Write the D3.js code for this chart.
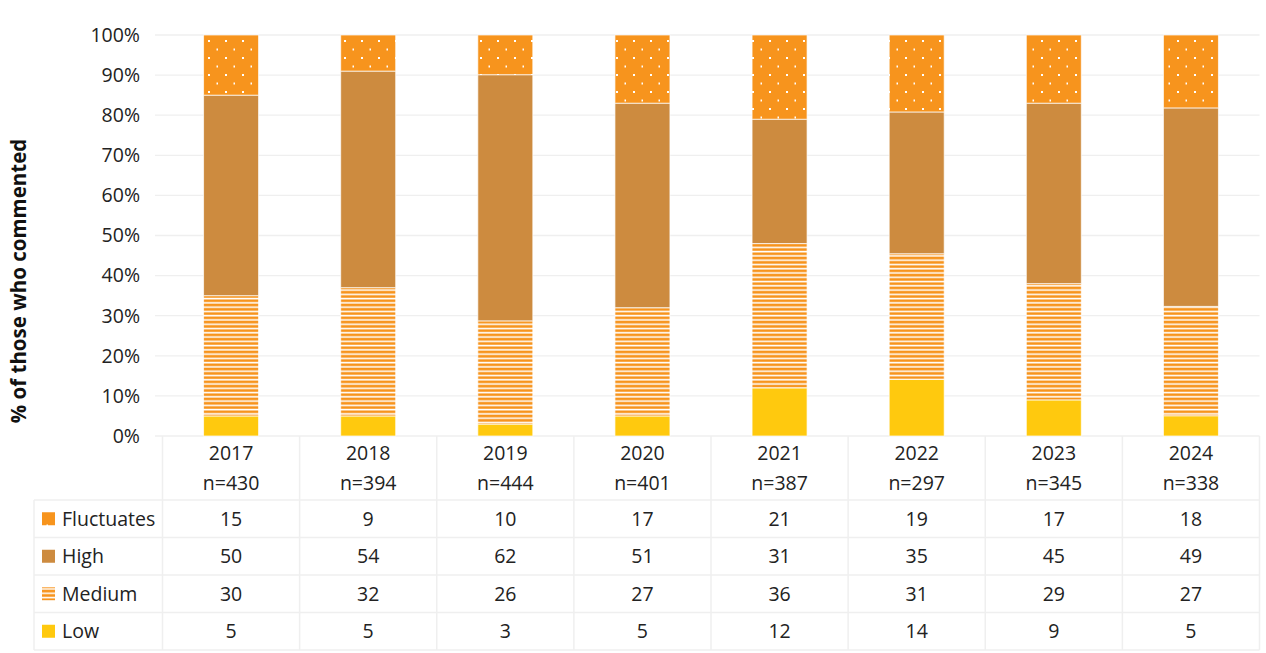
<!DOCTYPE html>
<html><head><meta charset="utf-8">
<script src="https://cdn.jsdelivr.net/npm/d3@7"></script>
<style>body{margin:0;background:#fff}svg{display:block;font-family:"Open Sans","Noto Sans",sans-serif}</style>
</head><body><svg id="c" width="1266" height="653"></svg>
<script>
const years = ["2017","2018","2019","2020","2021","2022","2023","2024"];
const nCounts = ["n=430","n=394","n=444","n=401","n=387","n=297","n=345","n=338"];
const seriesNames = ["Low","Medium","High","Fluctuates"];
const low = [5,5,3,5,12,14,9,5];
const medium = [30,32,26,27,36,31,29,27];
const high = [50,54,62,51,31,35,45,49];
const fluctuates = [15,9,10,17,21,19,17,18];
const yTicks = [0,0.1,0.2,0.3,0.4,0.5,0.6,0.7,0.8,0.9,1];
const tableOrder = ["Fluctuates","High","Medium","Low"];
const yTitle = "% of those who commented";

const svg = d3.select("#c");
const L = 162.5, R = 1259.5, T = 35, B = 436;
const gridCol = "#efefef";
const FS = 19.5;

const defs = svg.append("defs");
const pd = defs.append("pattern").attr("id","dots").attr("patternUnits","userSpaceOnUse")
  .attr("width",17).attr("height",17).attr("x",0).attr("y",0);
pd.append("rect").attr("width",17).attr("height",17).attr("fill","#F7941D");
pd.append("rect").attr("x",4).attr("y",6).attr("width",2).attr("height",2).attr("fill","#fff");
pd.append("rect").attr("x",12.5).attr("y",14.5).attr("width",1.5).attr("height",2).attr("fill","#fff");
const ps = defs.append("pattern").attr("id","stripes").attr("patternUnits","userSpaceOnUse")
  .attr("width",10).attr("height",4.27);
ps.append("rect").attr("width",10).attr("height",4.27).attr("fill","#fff");
ps.append("rect").attr("y",0.5).attr("width",10).attr("height",2.7).attr("fill","#F7941D");
const fills = {Low:"#FFC90E", Medium:"url(#stripes)", High:"#CD8B3F", Fluctuates:"url(#dots)"};

const data = years.map((y,i)=>({year:y, Low:low[i], Medium:medium[i], High:high[i], Fluctuates:fluctuates[i]}));
const stack = d3.stack().keys(seriesNames).offset(d3.stackOffsetExpand)(data);

const xCol = d3.scaleBand().domain(years).range([L,R]);
const y = d3.scaleLinear().domain([0,1]).range([B,T]);

// gridlines
svg.append("g").selectAll("line").data(yTicks).join("line")
  .attr("x1",155).attr("x2",R).attr("y1",d=>y(d)).attr("y2",d=>y(d))
  .attr("stroke",gridCol).attr("stroke-width",1.3);

// tick labels
svg.append("g").selectAll("text").data(yTicks).join("text")
  .attr("x",140).attr("y",d=>y(d)).attr("dy","0.35em").attr("text-anchor","end")
  .attr("font-size",FS).attr("fill","#222").text(d=>d3.format(".0%")(d));

// bars
const gs = svg.append("g").selectAll("g").data(stack).join("g").attr("fill",d=>fills[d.key]);
gs.selectAll("rect").data(d=>d).join("rect")
  .attr("x",d=>xCol(d.data.year)+xCol.bandwidth()/2-27.5).attr("width",55)
  .attr("y",d=>y(d[1])).attr("height",d=>y(d[0])-y(d[1]))
  .attr("stroke","rgba(255,255,255,0.7)").attr("stroke-width",1);

// y title
svg.append("text").attr("transform","translate(26,281) rotate(-90)").attr("text-anchor","middle")
  .attr("font-size",20.5).attr("font-weight","bold").attr("fill","#111").text(yTitle);

// table
const rowH = 37.5, headB = 500;
const tg = svg.append("g");
const colEdges = years.map(yv=>xCol(yv)).concat([R]);
tg.selectAll("line.v").data(colEdges).join("line").attr("class","v")
  .attr("x1",d=>d).attr("x2",d=>d).attr("y1",B).attr("y2",headB+4*rowH)
  .attr("stroke",gridCol).attr("stroke-width",1.5);
tg.append("line").attr("x1",34).attr("x2",34).attr("y1",headB).attr("y2",headB+4*rowH).attr("stroke",gridCol).attr("stroke-width",1.5);
const hLines = d3.range(5).map(i=>headB+i*rowH);
tg.selectAll("line.h").data(hLines).join("line").attr("class","h")
  .attr("x1",34).attr("x2",R).attr("y1",d=>d).attr("y2",d=>d)
  .attr("stroke",gridCol).attr("stroke-width",1.5);
tg.selectAll("text.yr").data(years).join("text").attr("class","yr")
  .attr("x",d=>xCol(d)+xCol.bandwidth()/2).attr("y",453).attr("dy","0.35em").attr("text-anchor","middle")
  .attr("font-size",FS).attr("fill","#222").text(d=>d);
tg.selectAll("text.n").data(nCounts).join("text").attr("class","n")
  .attr("x",(d,i)=>xCol(years[i])+xCol.bandwidth()/2).attr("y",483).attr("dy","0.35em").attr("text-anchor","middle")
  .attr("font-size",FS).attr("fill","#222").text(d=>d);
const seriesVals = {Low:low, Medium:medium, High:high, Fluctuates:fluctuates};
tableOrder.forEach((s,r)=>{
  const cy = headB + r*rowH + rowH/2;
  tg.append("rect").attr("x",42).attr("y",cy-6.5).attr("width",13).attr("height",13).attr("fill",fills[s]);
  tg.append("text").attr("x",62).attr("y",cy).attr("dy","0.35em").attr("font-size",FS).attr("fill","#222").text(s);
  tg.selectAll(null).data(seriesVals[s]).join("text")
    .attr("x",(d,i)=>xCol(years[i])+xCol.bandwidth()/2).attr("y",cy).attr("dy","0.35em")
    .attr("text-anchor","middle").attr("font-size",FS).attr("fill","#222").text(d=>d);
});
</script></body></html>
